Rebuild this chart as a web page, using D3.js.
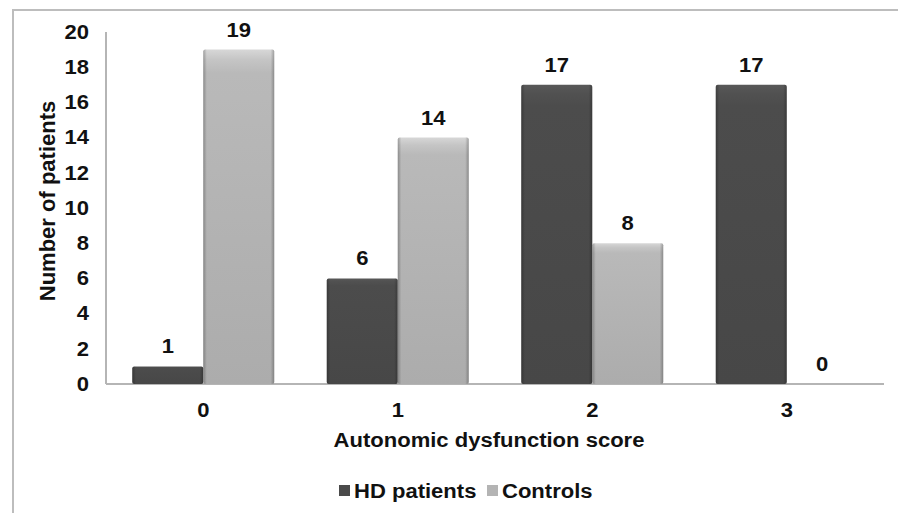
<!DOCTYPE html>
<html><head><meta charset="utf-8">
<script src="https://cdn.jsdelivr.net/npm/d3@7"></script>
<style>body{margin:0;background:#fff;}svg{display:block;font-family:"Liberation Sans",Arial,sans-serif;font-weight:bold;}</style>
</head><body>
<svg id="c" width="898" height="513"></svg>
<script>
const categories = ["0","1","2","3"];
const seriesNames = ["HD patients","Controls"];
const hdValues = [1,6,17,17];
const controlValues = [19,14,8,0];
const yTicks = [0,2,4,6,8,10,12,14,16,18,20];
const colors = {"HD patients":"#4a4a4a","Controls":"#b4b4b4"};

const SX = 1.13, FS = 19.5;
const svg = d3.select("#c");
const defs = svg.append("defs");
function grad(id, base){
  const c = d3.color(base);
  const g = defs.append("linearGradient").attr("id",id).attr("x1",0).attr("x2",0).attr("y1",0).attr("y2",1);
  g.append("stop").attr("offset","0%").attr("stop-color",c.brighter(0.5));
  g.append("stop").attr("offset","3%").attr("stop-color",c.brighter(0.25));
  g.append("stop").attr("offset","7%").attr("stop-color",c.brighter(0.08));
  g.append("stop").attr("offset","100%").attr("stop-color",c.darker(0.12));
  const h = defs.append("linearGradient").attr("id",id+"h").attr("x1",0).attr("x2",1).attr("y1",0).attr("y2",0);
  h.append("stop").attr("offset","0%").attr("stop-color","#000").attr("stop-opacity",0.25);
  h.append("stop").attr("offset","5%").attr("stop-color","#000").attr("stop-opacity",0);
  h.append("stop").attr("offset","95%").attr("stop-color","#000").attr("stop-opacity",0);
  h.append("stop").attr("offset","100%").attr("stop-color","#000").attr("stop-opacity",0.25);
}
grad("gHD", colors["HD patients"]);
grad("gCT", colors["Controls"]);
const gradId = {"HD patients":"gHD","Controls":"gCT"};

function txt(sel, x, y){ // horizontally stretched text
  return sel.attr("transform",(d,i)=>`translate(${typeof x==="function"?x(d,i):x},${typeof y==="function"?y(d,i):y}) scale(${SX},1)`)
    .attr("font-size",FS).attr("fill","#111");
}

// frame
svg.append("path").attr("d","M13,513 V10 H898").attr("fill","none").attr("stroke","#bdbdbd").attr("stroke-width",2);

const x0 = d3.scaleBand().domain(categories).range([106,884]).paddingInner(0.27).paddingOuter(0.135);
const x1 = d3.scaleBand().domain(seriesNames).range([0,x0.bandwidth()]);
const y = d3.scaleLinear().domain([0,20]).range([384,32]);

// axes
svg.append("line").attr("x1",106).attr("x2",106).attr("y1",y(20)).attr("y2",y(0)).attr("stroke","#b5b5b5").attr("stroke-width",2);
svg.append("line").attr("x1",106).attr("x2",884).attr("y1",y(0)).attr("y2",y(0)).attr("stroke","#b5b5b5").attr("stroke-width",2);

txt(svg.append("g").selectAll("text").data(yTicks).join("text"), 89, d=>y(d))
  .attr("dy","0.35em").attr("text-anchor","end").text(d=>d);

txt(svg.append("g").selectAll("text").data(categories).join("text"), d=>x0(d)+x0.bandwidth()/2, 410)
  .attr("dy","0.35em").attr("text-anchor","middle").text(d=>d);

const rows = categories.map((c,i)=>({cat:c, vals:[{s:"HD patients",v:hdValues[i]},{s:"Controls",v:controlValues[i]}]}));
const groups = svg.append("g").selectAll("g").data(rows).join("g").attr("transform",d=>`translate(${x0(d.cat)},0)`);
groups.selectAll("rect.b").data(d=>d.vals.filter(v=>v.v>0)).join("rect").attr("class","b")
  .attr("x",d=>x1(d.s)).attr("width",x1.bandwidth()).attr("y",d=>y(d.v)).attr("height",d=>y(0)-y(d.v))
  .attr("rx",2).attr("fill",d=>`url(#${gradId[d.s]})`);
groups.selectAll("rect.h").data(d=>d.vals.filter(v=>v.v>0)).join("rect").attr("class","h")
  .attr("x",d=>x1(d.s)).attr("width",x1.bandwidth()).attr("y",d=>y(d.v)).attr("height",d=>y(0)-y(d.v))
  .attr("rx",2).attr("fill",d=>`url(#${gradId[d.s]}h)`);
txt(groups.selectAll("text").data(d=>d.vals).join("text"), d=>x1(d.s)+x1.bandwidth()/2, d=>y(d.v)-13)
  .attr("text-anchor","middle").text(d=>d.v);

// titles
svg.append("text").attr("transform","translate(55,201) rotate(-90)").attr("text-anchor","middle")
  .attr("font-size",22).attr("fill","#111").text("Number of patients");
txt(svg.append("text"), 489, 440).attr("dy","0.35em").attr("text-anchor","middle").text("Autonomic dysfunction score");

// legend
const leg = svg.append("g");
const legX = [339, 487];
seriesNames.forEach((s,i)=>{
  leg.append("rect").attr("x",legX[i]).attr("y",485).attr("width",11).attr("height",11).attr("fill",colors[s]);
  txt(leg.append("text"), legX[i]+15, 491).attr("dy","0.35em").text(s);
});
</script>
</body></html>
